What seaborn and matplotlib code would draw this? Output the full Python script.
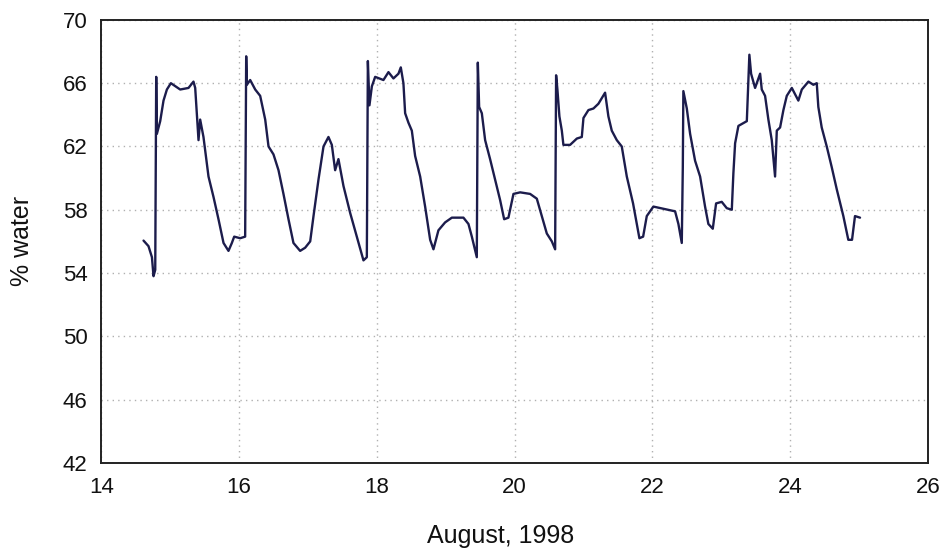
import numpy as np
import pandas as pd
import matplotlib
matplotlib.use("Agg")
import matplotlib.pyplot as plt
import seaborn as sns

# day of August 1998 (fractional) and % water
day = [
    14.614, 14.686, 14.736, 14.759, 14.784, 14.798, 14.808, 14.856, 14.904, 14.953,
    15.011, 15.146, 15.267, 15.339, 15.364, 15.412, 15.436, 15.484, 15.557, 15.630,
    15.702, 15.775, 15.847, 15.896, 15.930, 16.017, 16.089, 16.104, 16.114, 16.162,
    16.235, 16.307, 16.380, 16.428, 16.500, 16.573, 16.645, 16.718, 16.790, 16.887,
    16.960, 17.033, 17.081, 17.153, 17.226, 17.298, 17.347, 17.395, 17.443, 17.516,
    17.613, 17.710, 17.806, 17.855, 17.870, 17.893, 17.928, 17.976, 18.096, 18.169,
    18.241, 18.314, 18.348, 18.386, 18.411, 18.459, 18.508, 18.556, 18.629, 18.701,
    18.774, 18.822, 18.894, 18.991, 19.089, 19.257, 19.330, 19.379, 19.451, 19.466,
    19.485, 19.524, 19.572, 19.644, 19.717, 19.790, 19.848, 19.910, 19.983, 20.080,
    20.225, 20.322, 20.395, 20.467, 20.540, 20.588, 20.602, 20.621, 20.650, 20.685,
    20.708, 20.805, 20.903, 20.975, 20.999, 21.071, 21.144, 21.216, 21.313, 21.361,
    21.410, 21.483, 21.555, 21.628, 21.719, 21.811, 21.865, 21.918, 22.014, 22.329,
    22.377, 22.426, 22.441, 22.449, 22.499, 22.547, 22.619, 22.692, 22.764, 22.812,
    22.876, 22.924, 23.006, 23.079, 23.152, 23.175, 23.200, 23.248, 23.370, 23.407,
    23.432, 23.490, 23.563, 23.587, 23.635, 23.683, 23.732, 23.780, 23.805, 23.853,
    23.901, 23.950, 24.023, 24.118, 24.168, 24.264, 24.336, 24.385, 24.408, 24.457,
    24.530, 24.602, 24.675, 24.771, 24.843, 24.897, 24.940, 25.013,
]
water = [
    56.05, 55.7, 55.0, 53.8, 54.2, 66.4, 62.8, 63.6, 64.9, 65.6,
    66.0, 65.6, 65.7, 66.1, 65.7, 62.4, 63.7, 62.6, 60.1, 58.8,
    57.4, 55.9, 55.4, 55.9, 56.3, 56.2, 56.3, 67.7, 65.9, 66.2,
    65.6, 65.2, 63.7, 62.0, 61.5, 60.5, 59.0, 57.4, 55.9, 55.4,
    55.6, 56.0, 57.6, 59.9, 62.0, 62.6, 62.1, 60.5, 61.2, 59.5,
    57.8, 56.3, 54.8, 55.0, 67.4, 64.6, 65.8, 66.4, 66.2, 66.7,
    66.3, 66.6, 67.0, 66.0, 64.1, 63.5, 63.0, 61.4, 60.1, 58.2,
    56.1, 55.5, 56.7, 57.2, 57.5, 57.5, 57.1, 56.3, 55.0, 67.3,
    64.5, 64.1, 62.4, 61.2, 59.9, 58.6, 57.4, 57.5, 59.0, 59.1,
    59.0, 58.7, 57.6, 56.5, 56.0, 55.5, 66.5, 65.6, 63.9, 63.0,
    62.1, 62.1, 62.5, 62.6, 63.8, 64.3, 64.4, 64.7, 65.4, 63.9,
    63.0, 62.4, 62.0, 60.1, 58.4, 56.2, 56.3, 57.6, 58.2, 57.9,
    57.1, 55.9, 60.7, 65.5, 64.4, 62.8, 61.1, 60.1, 58.2, 57.1,
    56.8, 58.4, 58.5, 58.1, 58.0, 60.3, 62.2, 63.3, 63.6, 67.8,
    66.6, 65.7, 66.6, 65.6, 65.2, 63.7, 62.4, 60.1, 63.0, 63.2,
    64.3, 65.2, 65.7, 64.9, 65.6, 66.1, 65.9, 66.0, 64.5, 63.2,
    62.0, 60.7, 59.3, 57.6, 56.1, 56.1, 57.6, 57.5,
]
x_ticks = [14, 16, 18, 20, 22, 24, 26]
y_ticks = [42, 46, 50, 54, 58, 62, 66, 70]

sns.set_style("white")
plt.rcParams['font.family'] = ['Liberation Sans', 'DejaVu Sans']

df = pd.DataFrame({"day": day, "water": water})

fig, ax = plt.subplots(figsize=(9.46, 5.53), dpi=100)
fig.subplots_adjust(left=0.107, right=0.981, bottom=0.163, top=0.964)

sns.lineplot(data=df, x="day", y="water", sort=False, estimator=None,
             color="#1c1c4c", linewidth=1.7, ax=ax)

ax.set_xlim(14, 26)
ax.set_ylim(42, 70)
ax.set_xticks(x_ticks)
ax.set_yticks(y_ticks)
ax.grid(True, linestyle=(0, (1, 3)), color="#b0b0b0", linewidth=1.0)
ax.tick_params(axis="both", length=0, labelsize=16, pad=10, colors="#111111")

for s in ax.spines.values():
    s.set_visible(True)
    s.set_color("#222222")
    s.set_linewidth(1.4)

ax.set_xlabel("August, 1998", fontsize=18, color="#111111", va="center")
ax.set_ylabel("% water", fontsize=18, color="#111111", va="center")
ax.xaxis.set_label_coords(0.483, -0.165)
ax.yaxis.set_label_coords(-0.0955, 0.5)

fig.savefig("out.png", dpi=100, facecolor="white")
